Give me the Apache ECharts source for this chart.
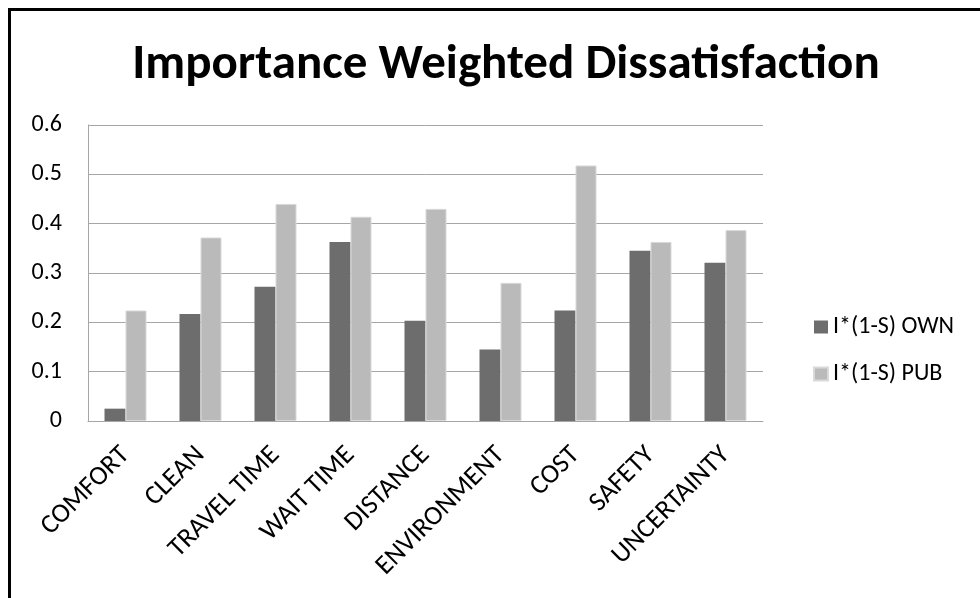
<!DOCTYPE html>
<html>
<head>
<meta charset="utf-8">
<script src="https://cdn.jsdelivr.net/npm/echarts@6/dist/echarts.min.js"></script>
<style>
html,body{margin:0;padding:0;background:#fff;}
#chart{width:980px;height:598px;}
</style>
</head>
<body>
<div id="chart"></div>
<script>
const categories = ['COMFORT','CLEAN','TRAVEL TIME','WAIT TIME','DISTANCE','ENVIRONMENT','COST','SAFETY','UNCERTAINTY'];
const ownValues = [0.025, 0.217, 0.272, 0.363, 0.203, 0.145, 0.224, 0.345, 0.321];
const pubValues = [0.224, 0.372, 0.440, 0.414, 0.430, 0.280, 0.518, 0.363, 0.387];
const seriesNames = ['I*(1-S) OWN', 'I*(1-S) PUB'];
const titleText = 'Importance Weighted Dissatisfaction';

const FONT = 'Carlito, Lato, sans-serif';
const chart = echarts.init(document.getElementById('chart'), null, {renderer:'canvas'});
chart.setOption({
  backgroundColor: '#fff',
  animation: false,
  title: {
    text: titleText,
    left: 501,
    textAlign: 'center',
    top: 36,
    textStyle: {fontFamily: FONT, fontWeight: 'bold', fontSize: 49, color: '#000'}
  },
  graphic: [{
    type: 'rect',
    shape: {x: 9.5, y: 9.5, width: 1100, height: 800},
    style: {fill: 'none', stroke: '#000', lineWidth: 3},
    silent: true
  }],
  legend: {
    orient: 'vertical',
    left: 808,
    top: 310,
    icon: 'rect',
    itemWidth: 14,
    itemHeight: 13,
    itemGap: 23,
    textStyle: {fontFamily: FONT, fontSize: 24, lineHeight: 24, color: '#000'},
    data: seriesNames
  },
  grid: {left: 88, right: 217, top: 125, bottom: 177, containLabel: false},
  xAxis: {
    type: 'category',
    data: categories,
    axisLine: {show: true, lineStyle: {color: '#a6a6a6', width: 1}},
    axisTick: {show: false},
    axisLabel: {interval: 0, rotate: 45, margin: 30, fontFamily: FONT, fontSize: 27, color: '#000'}
  },
  yAxis: {
    type: 'value',
    min: 0,
    max: 0.6,
    interval: 0.1,
    axisLine: {show: true, lineStyle: {color: '#a6a6a6', width: 1}},
    axisTick: {show: false},
    splitLine: {show: true, lineStyle: {color: '#a6a6a6', width: 1}},
    axisLabel: {margin: 26, fontFamily: FONT, fontSize: 24, color: '#000'}
  },
  series: [
    {name: seriesNames[0], type: 'bar', data: ownValues, barGap: '0%', barCategoryGap: '44%',
     itemStyle: {color: '#6d6d6d'}},
    {name: seriesNames[1], type: 'bar', data: pubValues, barGap: '0%', barCategoryGap: '44%',
     itemStyle: {color: '#bababa', borderColor: '#d9d9d9', borderWidth: 1}}
  ]
});
</script>
</body>
</html>
